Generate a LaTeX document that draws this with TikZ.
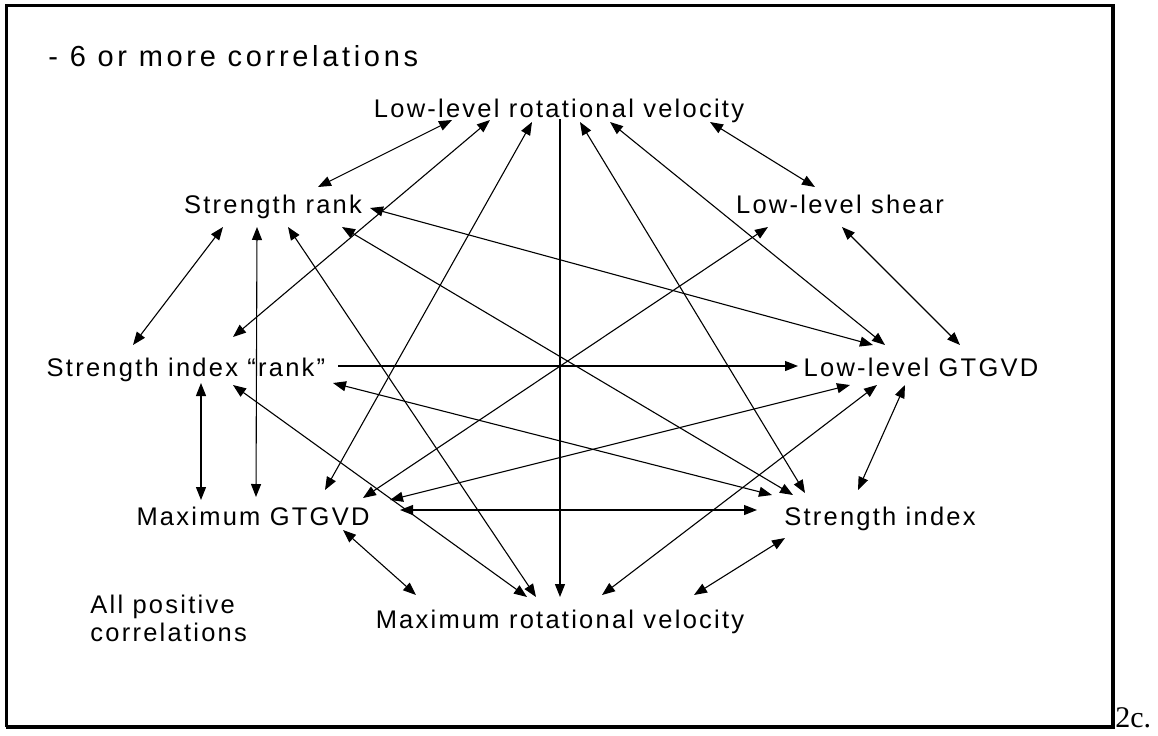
\documentclass[tikz,border=0pt]{standalone}
\usepackage{fontspec}
\setmainfont{Liberation Sans}
\newfontfamily\lblfont[LetterSpace=8.8]{Liberation Sans}
\newfontfamily\ttlfont[LetterSpace=12.7]{Liberation Sans}
\newfontfamily\figfont{Liberation Serif}
\usetikzlibrary{arrows.meta,calc}
\begin{document}
\begin{tikzpicture}[x=0.5pt,y=-0.5pt,
  lbl/.style={inner sep=0pt,anchor=base,font=\lblfont\fontsize{12.75}{14}\selectfont},
  ttl/.style={inner sep=0pt,anchor=base west,font=\ttlfont\fontsize{14.5}{16}\selectfont},
  conn/.style={line width=0.55pt,black},
  dbl/.style={conn,{Triangle[length=6.5pt,width=5pt]}-{Triangle[length=6.5pt,width=5pt]}},
  one/.style={conn,-{Triangle[length=6.5pt,width=5pt]}}]
\useasboundingbox (0,0) rectangle (1158,735);
% frame
\draw[line width=1.5pt] (6,727) -- (6,5) -- (1113,5);
\draw[line width=2pt] (6,727) -- (1113,727) -- (1113,4);
% texts
\node[ttl] (T) at (48,66) {- 6 or more correlations};
\node[lbl] (LLRV) at (559,117) {Low-level rotational velocity};
\node[lbl] (SR) at (273,213) {Strength rank};
\node[lbl] (LLS) at (840,213) {Low-level shear};
\node[lbl] (SIR) at (186,376) {Strength index “rank”};
\node[lbl] (LLG) at (921,376) {Low-level GTGVD};
\node[lbl] (MG) at (253,525) {Maximum GTGVD};
\node[lbl] (SI) at (880,525) {Strength index};
\node[lbl] (MRV) at (560,628) {Maximum rotational velocity};
\node[lbl,anchor=base west] (AP1) at (90,613) {All positive};
\node[lbl,anchor=base west] (AP2) at (90,641) {correlations};
\node[inner sep=0pt,anchor=base west,font=\figfont\fontsize{15}{17}\selectfont] (FIG) at (1115,727) {2c.};
% connectors
\draw[dbl] ($(LLRV.base)+(-107,3)$) -- ($(SR.base)+(45,-26)$);
\draw[dbl] ($(LLRV.base)+(-69,3)$) -- ($(SIR.base)+(47,-39)$);
\draw[dbl] ($(LLRV.base)+(-27,5)$) -- ($(MG.base)+(72,-35)$);
\draw[one] ($(LLRV.base)+(1,2)$) -- ($(MRV.base)+(0,-31)$);
\draw[dbl] ($(LLRV.base)+(21,5)$) -- ($(SI.base)+(-75,-32)$);
\draw[dbl] ($(LLRV.base)+(51,5)$) -- ($(LLG.base)+(-36,-31)$);
\draw[dbl] ($(LLRV.base)+(151,5)$) -- ($(LLS.base)+(-25,-26)$);
\draw[dbl] ($(SR.base)+(97,-5)$) -- ($(LLG.base)+(-48,-31)$);
\draw[dbl] ($(SR.base)+(-50,14)$) -- ($(SIR.base)+(-53,-31)$);
\draw[dbl] ($(SR.base)+(-16,14)$) -- ($(MG.base)+(3,-28)$);
\draw[dbl] ($(SR.base)+(15,14)$) -- ($(MRV.base)+(-24,-31)$);
\draw[dbl] ($(SR.base)+(69,14)$) -- ($(SI.base)+(-87,-30)$);
\draw[one] ($(SIR.base)+(152,-10)$) -- ($(LLG.base)+(-123,-10)$);
\draw[dbl] ($(SIR.base)+(15,7)$) -- ($(MG.base)+(-52,-25)$);
\draw[dbl] ($(SIR.base)+(147,7)$) -- ($(SI.base)+(-108,-30)$);
\draw[dbl] ($(SIR.base)+(47,9)$) -- ($(MRV.base)+(-33,-31)$);
\draw[dbl] ($(MG.base)+(110,-27)$) -- ($(LLS.base)+(-72,14)$);
\draw[dbl] ($(MG.base)+(137,-25)$) -- ($(LLG.base)+(-71,9)$);
\draw[dbl] ($(MG.base)+(147,-15)$) -- ($(SI.base)+(-123,-15)$);
\draw[dbl] ($(MG.base)+(90,5)$) -- ($(MRV.base)+(-144,-33)$);
\draw[dbl] ($(SI.base)+(-22,-35)$) -- ($(LLG.base)+(-16,9)$);
\draw[dbl] ($(SI.base)+(-95,13)$) -- ($(MRV.base)+(134,-33)$);
\draw[dbl] ($(LLG.base)+(39,-31)$) -- ($(LLS.base)+(2,14)$);
\draw[dbl] ($(LLG.base)+(-44,9)$) -- ($(MRV.base)+(42,-33)$);
\end{tikzpicture}
\end{document}
